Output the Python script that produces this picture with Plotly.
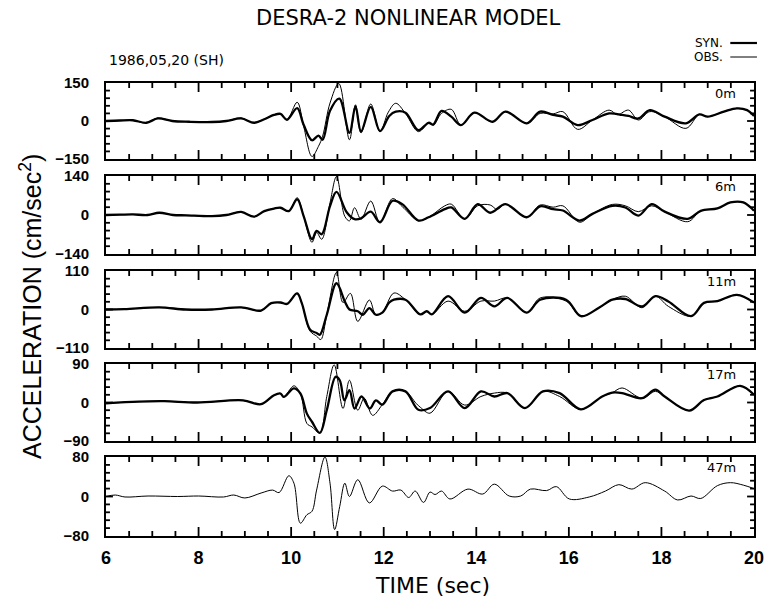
import plotly.graph_objects as go

# ---------------------------------------------------------------------------
# Acceleration time histories, 1986,05,20 (SH) event, DESRA-2 nonlinear model
# Times in seconds, accelerations in cm/sec^2
# ---------------------------------------------------------------------------
DEPTHS = ["0m", "6m", "11m", "17m", "47m"]
Y_LIMITS = [150, 140, 110, 90, 80]
X_RANGE = [6, 20]
X_TICKS = [6, 8, 10, 12, 14, 16, 18, 20]
X_MINOR_STEP = 0.5
Y_MINOR_DIVS = 5          # minor y ticks per half-range

# ---- 0 m ----
T_SYN_0M = [6.0, 6.3, 6.58, 6.87, 7.12, 7.43, 7.8, 8.29, 8.6, 8.92, 9.2, 9.42, 9.63, 9.77, 9.91,
            10.13, 10.27, 10.45, 10.59, 10.68, 10.84, 11.04, 11.26, 11.39, 11.51, 11.72, 11.92,
            12.12, 12.26, 12.47, 12.75, 12.97, 13.07, 13.25, 13.46, 13.67, 13.96, 14.35, 14.63,
            15.09, 15.38, 15.66, 15.87, 16.19, 16.51, 16.87, 17.15, 17.29, 17.5, 17.75, 18.07,
            18.53, 18.82, 19.0, 19.35, 19.63, 19.85, 20.0]
SYN_0M = [0, 2, 3, -7, 10, 0, -3, -4, 0, 10, -7, 7, 24, 28, 5,
          51, -15, -76, -58, -74, 40, 88, -47, 58, -41, 56, -40,
          20, 37, 33, -36, -7, -14, 40, 17, -16, 33, -3, 37,
          -9, 37, 24, 17, -16, 4, 30, 24, 20, 10, 43, 17,
          -9, 26, 17, 37, 50, 43, 20]
T_OBS_0M = [6.0, 6.3, 6.58, 6.87, 7.12, 7.43, 7.8, 8.29, 8.6, 8.92, 9.2, 9.42, 9.63, 9.77, 9.91,
            10.13, 10.27, 10.45, 10.59, 10.68, 10.84, 11.03, 11.26, 11.39, 11.51, 11.72, 11.92,
            12.1, 12.26, 12.47, 12.75, 12.97, 13.07, 13.25, 13.46, 13.67, 13.96, 14.35, 14.63,
            15.09, 15.38, 15.66, 15.87, 16.19, 16.51, 16.87, 17.05, 17.29, 17.5, 17.75, 18.07,
            18.53, 18.82, 19.0, 19.35, 19.63, 19.85, 20.0]
OBS_0M = [0, 2, 3, -8, 12, 0, -3, -4, 0, 12, -8, 8, 25, 29, 5,
          74, -21, -140, -100, -60, 71, 148, -74, 64, -47, 67, -42,
          35, 70, 30, -42, -7, -16, 30, 46, -16, 33, -3, 37,
          -9, 30, 28, 37, -33, 4, 43, 25, 43, 4, 37, 17,
          -29, 26, 17, 37, 50, 43, 20]

# ---- 6 m ----
T_SYN_6M = [6.0, 6.3, 6.58, 6.9, 7.15, 7.45, 7.72, 8.29, 8.6, 8.92, 9.2, 9.42, 9.63, 9.77, 9.95,
            10.13, 10.27, 10.45, 10.55, 10.66, 10.84, 10.98, 11.2, 11.37, 11.51, 11.72, 11.92,
            12.19, 12.4, 12.75, 12.97, 13.32, 13.46, 13.75, 14.03, 14.3, 14.63,
            15.09, 15.38, 15.66, 15.87, 16.23, 16.51, 16.94, 17.22, 17.5, 17.79, 18.07,
            18.57, 18.85, 19.21, 19.49, 19.77, 20.0]
SYN_6M = [0, 1, 2, 0, 8, 0, -1, -4, 0, 11, -6, 14, 23, 26, 14,
          56, -4, -87, -57, -69, 32, 83, 10, -15, -12, 12, -26,
          51, 39, -20, -8, 21, 27, -14, 39, 8, 39,
          -8, 31, 21, 16, -20, 4, 33, 27, -2, 39, 12,
          -14, 15, 24, 45, 45, 15]
T_OBS_6M = [6.0, 6.3, 6.58, 6.9, 7.15, 7.45, 7.72, 8.29, 8.6, 8.92, 9.2, 9.42, 9.63, 9.77, 9.95,
            10.13, 10.27, 10.45, 10.55, 10.66, 10.84, 10.98, 11.16, 11.26, 11.37, 11.51, 11.72, 11.92,
            12.19, 12.4, 12.75, 12.97, 13.32, 13.46, 13.75, 14.03, 14.3, 14.45, 14.63,
            15.09, 15.38, 15.66, 15.87, 16.23, 16.51, 16.94, 17.22, 17.5, 17.79, 18.07,
            18.57, 18.85, 19.21, 19.49, 19.77, 20.0]
OBS_6M = [0, 1, 2, 0, 8, 0, -1, -4, 0, 11, -6, 14, 23, 26, 14,
          62, -4, -98, -63, -87, 44, 138, -5, -21, 26, -15, 50, -27,
          59, 30, -20, -8, 33, 39, -14, 33, 36, 20, 39,
          -8, 36, 28, 33, -26, 4, 38, 33, 12, 33, 12,
          -24, 15, 24, 45, 45, 15]

# ---- 11 m ----
T_SYN_11M = [6.0, 6.4, 7.15, 7.72, 8.29, 8.92, 9.35, 9.57, 9.77, 9.91,
             10.13, 10.23, 10.41, 10.55, 10.62, 10.77, 10.98, 11.16, 11.26, 11.44, 11.55, 11.69, 11.83,
             11.97, 12.12, 12.22, 12.47, 12.79, 12.93, 13.04, 13.39, 13.75, 14.1, 14.39, 14.67,
             15.09, 15.38, 15.94, 16.26, 16.65, 16.94, 17.22, 17.58, 17.87, 18.15,
             18.64, 18.92, 19.21, 19.63, 20.0]
SYN_11M = [0, 1, 6, 0, 0, 6, -3, 18, 20, 16,
           46, 18, -58, -67, -72, -15, 75, 23, 0, -5, -15, 4, -15,
           -9, 20, 28, 28, -14, -5, -14, 38, -9, 33, 9, 33,
           -9, 28, 28, -19, 5, 28, 30, 9, 38, 23,
           -19, 19, 24, 42, 20]
T_OBS_11M = [6.0, 6.4, 7.15, 7.72, 8.29, 8.92, 9.35, 9.57, 9.77, 9.91,
             10.13, 10.23, 10.41, 10.55, 10.64, 10.77, 10.98, 11.12, 11.28, 11.44, 11.69, 11.83,
             11.97, 12.22, 12.47, 12.79, 12.93, 13.04, 13.39, 13.75, 14.1, 14.39, 14.67,
             15.09, 15.38, 15.94, 16.26, 16.65, 16.94, 17.22, 17.58, 17.87, 18.15,
             18.64, 18.92, 19.21, 19.63, 20.0]
OBS_11M = [0, 1, 6, 0, 0, 6, -3, 18, 20, 16,
           46, 18, -62, -76, -86, -15, 106, 20, 46, -34, 27, -15,
           -9, 47, 28, -14, -5, -14, 24, -5, 24, 24, 33,
           -9, 33, 24, -19, 5, 28, 38, 5, 38, 9,
           -19, 19, 24, 42, 20]

# ---- 17 m ----
T_SYN_17M = [6.0, 6.7, 7.26, 7.97, 8.96, 9.35, 9.63, 9.77, 9.84,
             10.06, 10.2, 10.34, 10.45, 10.62, 10.77, 10.96, 11.05, 11.15, 11.26, 11.37, 11.52, 11.7, 11.83,
             11.97, 12.19, 12.47, 12.75, 13.0, 13.39, 13.75, 14.1, 14.39, 14.67,
             15.05, 15.44, 15.8, 16.26, 16.72, 16.94, 17.15, 17.58, 17.87, 18.07,
             18.6, 18.92, 19.21, 19.7, 20.0]
SYN_17M = [-2, 2, 3, 0, 5, -4, 17, 21, 13,
           33, 21, -26, -45, -71, -18, 60, 52, 5, 29, -14, 14, -14, 5,
           -5, 26, 26, -17, -13, 26, -13, 26, 14, 22,
           -13, 26, 22, -16, 14, 23, 22, 10, 30, 14,
           -19, 6, 14, 39, 18]
T_OBS_17M = [6.0, 6.7, 7.26, 7.97, 8.96, 9.35, 9.63, 9.77, 9.84,
             10.06, 10.2, 10.34, 10.45, 10.62, 10.77, 10.93, 11.12, 11.26, 11.44, 11.58, 11.76,
             11.97, 12.19, 12.47, 12.7, 12.8, 13.0, 13.39, 13.75, 14.1, 14.39, 14.67,
             15.05, 15.44, 15.8, 16.26, 16.72, 16.94, 17.15, 17.58, 17.87, 18.07,
             18.6, 18.92, 19.21, 19.7, 20.0]
OBS_17M = [-2, 2, 3, 0, 5, -4, 17, 21, 13,
           39, 21, -49, -57, -71, 14, 88, -14, 52, -18, 10, -30,
           -5, 26, 26, -2, -12, -25, 26, -6, 14, 22, 22,
           -13, 26, 14, -16, 14, 23, 34, 10, 26, 14,
           -19, 6, 14, 39, 18]

# ---- 47 m (observed only) ----
T_OBS_47M = [6.0, 6.2, 6.41, 6.91, 7.55, 8.0, 8.54, 8.76, 9.0, 9.35, 9.6, 9.74,
             9.95, 10.06, 10.2, 10.34, 10.45, 10.55, 10.73, 10.84, 10.94, 11.05, 11.16, 11.26,
             11.44, 11.69, 11.97, 12.19, 12.37, 12.54, 12.68, 12.86, 13.0, 13.11, 13.25, 13.43,
             13.82, 14.14, 14.39, 14.71, 14.96, 15.17, 15.52, 15.73, 16.01, 16.44, 16.79,
             17.08, 17.36, 17.65, 18.07, 18.35, 18.64, 18.85, 19.21, 19.49, 19.77, 20.0]
OBS_47M = [0, 3, -1, 1, 0, 1, -1, 3, -3, 7, 13, 8,
           42, 27, -54, -37, -30, 13, 80, 27, -67, -20, 27, 0,
           34, -13, 21, 11, 13, -2, 11, -12, 9, 4, 11, -5,
           15, 5, 25, 1, 1, 15, 12, 20, -5, -1, 11,
           24, 15, 28, 11, -7, 1, -4, 22, 28, 23, 16]

PANELS = [
    (T_SYN_0M, SYN_0M, T_OBS_0M, OBS_0M),
    (T_SYN_6M, SYN_6M, T_OBS_6M, OBS_6M),
    (T_SYN_11M, SYN_11M, T_OBS_11M, OBS_11M),
    (T_SYN_17M, SYN_17M, T_OBS_17M, OBS_17M),
    (None, None, T_OBS_47M, OBS_47M),
]

# ---------------------------------------------------------------------------
# Page geometry (pixels) -> paper fractions
# ---------------------------------------------------------------------------
W, H = 776, 601
LEFT, RIGHT, TOP, BOTTOM = 106, 762, 83, 536
PANEL_PX = [(83, 159), (176, 254), (271, 348), (364, 441), (457, 536)]


def fx(p):
    return (p - LEFT) / (RIGHT - LEFT)


def fy(p):
    return (BOTTOM - p) / (BOTTOM - TOP)


STROKE = "DejaVu Sans"
HELV = "Liberation Sans"
TICK_W = 1.8

fig = go.Figure()
layout = dict(
    width=W, height=H, autosize=False,
    margin=dict(l=LEFT, r=W - RIGHT, t=TOP, b=H - BOTTOM, pad=0),
    paper_bgcolor="white", plot_bgcolor="white",
    showlegend=False,
)

# time positions of the inward tick marks along every frame
n_minor = int(round((X_RANGE[1] - X_RANGE[0]) / X_MINOR_STEP))
x_marks = [X_RANGE[0] + j * X_MINOR_STEP for j in range(1, n_minor)]

shapes = []
for i, ((ts, ys, to, yo), lim, depth) in enumerate(zip(PANELS, Y_LIMITS, DEPTHS)):
    k = i + 1
    xa = "x" if k == 1 else f"x{k}"
    ya = "y" if k == 1 else f"y{k}"
    if ts is not None:
        fig.add_trace(go.Scatter(x=ts, y=ys, xaxis=xa, yaxis=ya, mode="lines",
                                 line=dict(color="black", width=2.3, shape="spline", smoothing=1.0),
                                 name="SYN."))
    fig.add_trace(go.Scatter(x=to, y=yo, xaxis=xa, yaxis=ya, mode="lines",
                             line=dict(color="black", width=1.0, shape="spline", smoothing=1.0),
                             name="OBS."))

    top_px, bot_px = PANEL_PX[i]
    panel_h = bot_px - top_px
    panel_w = RIGHT - LEFT
    layout["xaxis" if k == 1 else f"xaxis{k}"] = dict(
        domain=[0, 1], anchor=ya, range=X_RANGE,
        tickmode="array", tickvals=X_TICKS, ticks="",
        showline=True, linecolor="#000000", linewidth=2, mirror=True,
        showgrid=False, zeroline=False,
        showticklabels=(k == len(PANELS)),
        ticklabelstandoff=4,
        tickfont=dict(family=HELV, size=18, color="black", weight="bold"),
    )
    layout["yaxis" if k == 1 else f"yaxis{k}"] = dict(
        domain=[fy(bot_px), fy(top_px)], anchor=xa, range=[-lim, lim],
        tickmode="array", tickvals=[-lim, 0, lim], ticks="",
        showline=True, linecolor="#000000", linewidth=2, mirror=True,
        showgrid=False, zeroline=False,
        ticklabelstandoff=12,
        tickfont=dict(family=HELV, size=15, color="black", weight="bold"),
    )

    # inward tick marks on bottom and top edges (longer at labelled times)
    for t in x_marks:
        ln = (9 if t in X_TICKS else 5) / panel_h
        for y0, y1 in ((0, ln), (1, 1 - ln)):
            shapes.append(dict(type="line", xref=xa, yref=f"{ya} domain",
                               x0=t, x1=t, y0=y0, y1=y1,
                               line=dict(color="black", width=TICK_W)))
    # inward tick marks on left and right edges (longer at zero)
    step = lim / Y_MINOR_DIVS
    for j in range(1, 2 * Y_MINOR_DIVS):
        v = -lim + j * step
        ln = (7 if j == Y_MINOR_DIVS else 4) / panel_w
        for x0, x1 in ((0, ln), (1, 1 - ln)):
            shapes.append(dict(type="line", xref=f"{xa} domain", yref=ya,
                               x0=x0, x1=x1, y0=v, y1=v,
                               line=dict(color="black", width=TICK_W)))

annotations = [
    dict(text="DESRA-2 NONLINEAR MODEL", x=fx(412), y=fy(18), font=dict(family=STROKE, size=21)),
    dict(text="1986,05,20 (SH)", x=fx(107), y=fy(60), xanchor="left", font=dict(family=STROKE, size=14)),
    dict(text="SYN.", x=fx(733), y=fy(43), xanchor="right", font=dict(family=STROKE, size=12)),
    dict(text="OBS.", x=fx(733), y=fy(57), xanchor="right", font=dict(family=STROKE, size=12)),
    dict(text="TIME (sec)", x=fx(437), y=fy(585), font=dict(family=STROKE, size=22)),
    dict(text="ACCELERATION (cm/sec<sup>2</sup>)", x=fx(30), y=fy(306), textangle=-90,
         font=dict(family=HELV, size=25)),
]
for i, depth in enumerate(DEPTHS):
    annotations.append(dict(text=depth, x=fx(746), y=fy(PANEL_PX[i][0] + 10), xanchor="right",
                            font=dict(family=STROKE, size=13)))
for a in annotations:
    a.update(xref="paper", yref="paper", showarrow=False)
    a.setdefault("xanchor", "center")
    a.setdefault("yanchor", "middle")
    a["font"]["color"] = "black"
layout["annotations"] = annotations

# legend key strokes: heavy for SYN., light for OBS.
shapes += [
    dict(type="line", xref="paper", yref="paper", x0=fx(738), x1=fx(765), y0=fy(43), y1=fy(43),
         line=dict(color="black", width=2.2)),
    dict(type="line", xref="paper", yref="paper", x0=fx(738), x1=fx(765), y0=fy(57), y1=fy(57),
         line=dict(color="black", width=1.0)),
]
layout["shapes"] = shapes

fig.update_layout(**layout)
fig.write_html("out.html")
